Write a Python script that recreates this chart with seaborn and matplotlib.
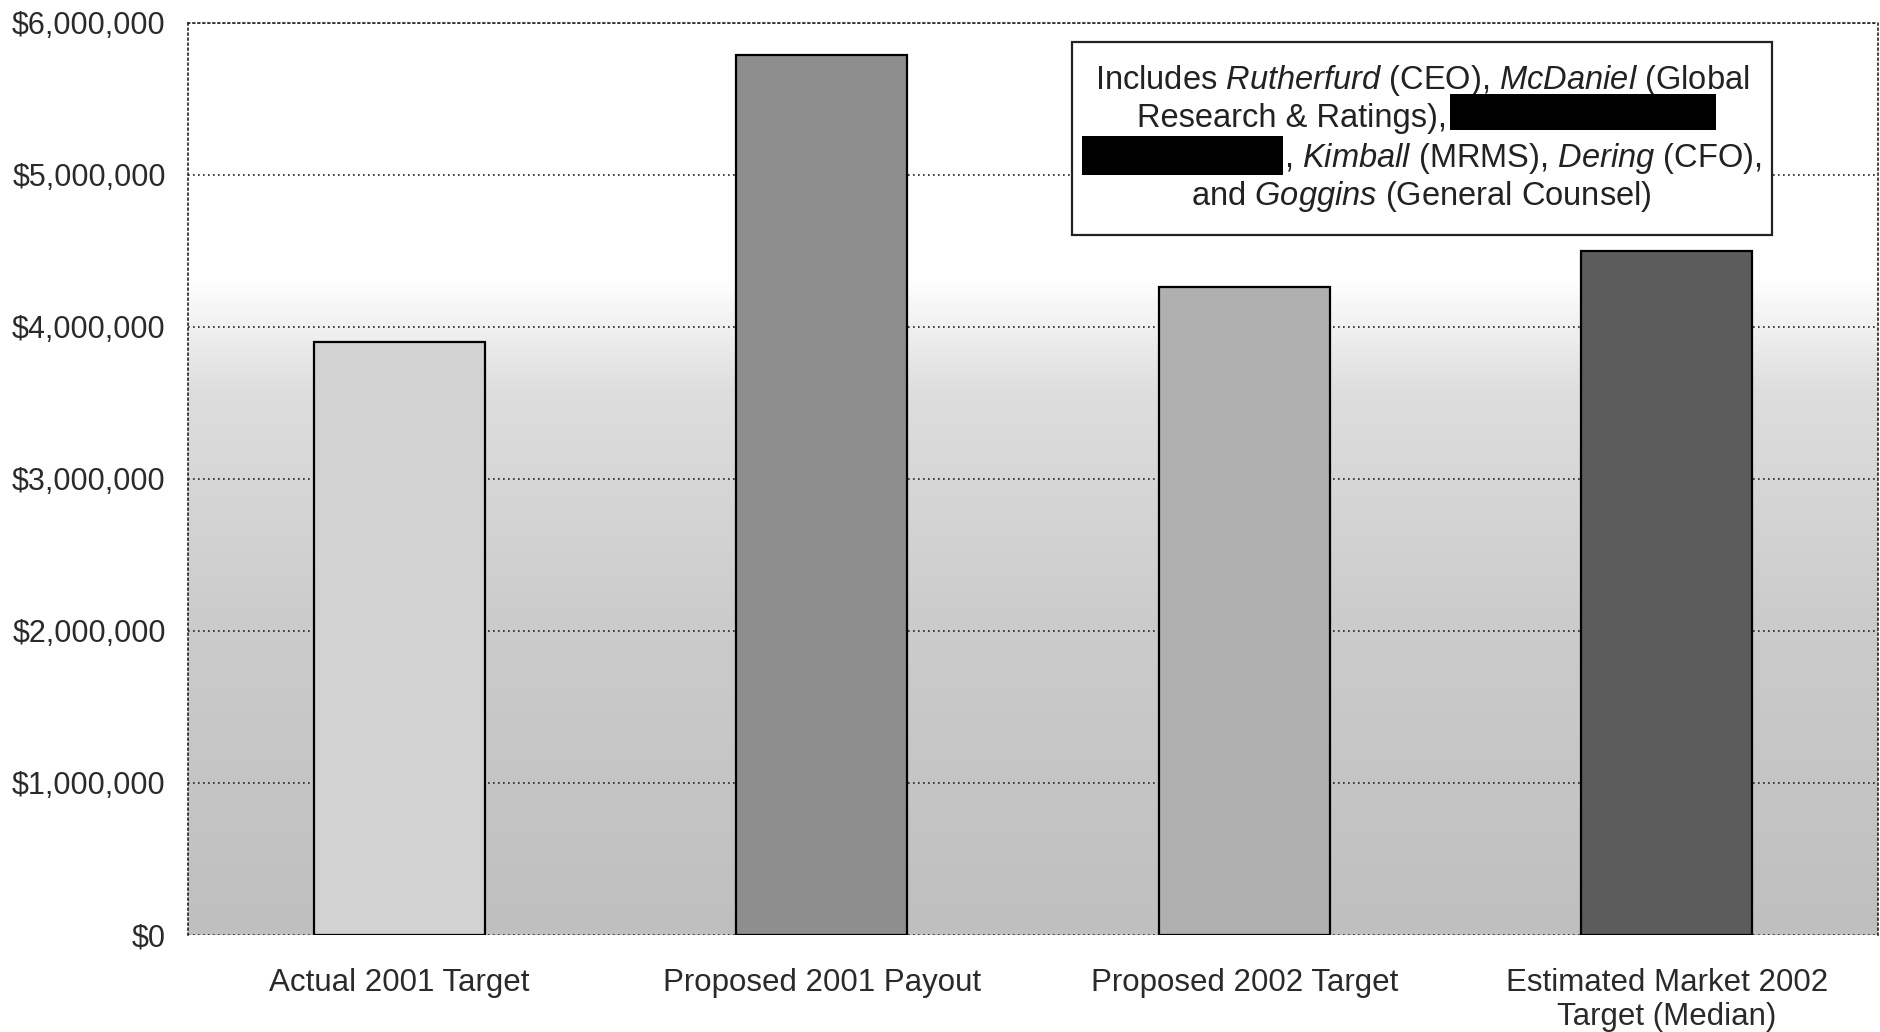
import matplotlib
matplotlib.use("Agg")
import matplotlib.pyplot as plt
import matplotlib.patches as mpatches
from matplotlib.colors import LinearSegmentedColormap
from matplotlib.ticker import FixedLocator, StrMethodFormatter
import numpy as np
import pandas as pd
import seaborn as sns


categories = [
    "Actual 2001 Target",
    "Proposed 2001 Payout",
    "Proposed 2002 Target",
    "Estimated Market 2002\nTarget (Median)",
]
values = [3_900_000, 5_790_000, 4_260_000, 4_500_000]
bar_colors = ["#d2d2d2", "#8e8e8e", "#b0b0b0", "#5c5c5c"]
y_ticks = [0, 1_000_000, 2_000_000, 3_000_000, 4_000_000, 5_000_000, 6_000_000]

W, H = 1881, 1032


def fx(x):
    return x / W


def fy(y):
    return 1 - y / H


sns.set_theme(style="white")
plt.rcParams["font.family"] = ["Liberation Sans", "DejaVu Sans"]
plt.rcParams["mathtext.fontset"] = "custom"
plt.rcParams["mathtext.rm"] = "Liberation Sans"
plt.rcParams["mathtext.it"] = "Liberation Sans:italic"

fig = plt.figure(figsize=(W / 100, H / 100), dpi=100)
ax = fig.add_axes([fx(188), fy(935), fx(1878) - fx(188), fy(23) - fy(935)])

df = pd.DataFrame({"category": categories, "value": values})

# background shading: white at the top fading to grey at the bottom
bg = LinearSegmentedColormap.from_list(
    "bg", [(0.0, "#bfbfbf"), (0.35, "#cccccc"), (0.6, "#dedede"), (0.68, "#f4f4f4"), (0.72, "#ffffff"), (1.0, "#ffffff")]
)
grad = np.linspace(0, 1, 256).reshape(-1, 1)
ax.imshow(grad, cmap=bg, aspect="auto", origin="lower",
          extent=(-0.5, 3.5, 0, 6_000_000), zorder=0)

sns.barplot(data=df, x="category", y="value", hue="category", palette=bar_colors,
            legend=False, width=0.405, edgecolor="black", linewidth=1.6,
            saturation=1, ax=ax, zorder=3)

ax.set_xlim(-0.5, 3.5)
ax.set_ylim(0, 6_000_000)
ax.yaxis.set_major_locator(FixedLocator(y_ticks))
ax.yaxis.set_major_formatter(StrMethodFormatter("${x:,.0f}"))
ax.set_xlabel("")
ax.set_ylabel("")
ax.grid(axis="y", linestyle=(0, (1, 2)), color="#222222", linewidth=1.2, zorder=1)
for line in ax.get_ygridlines():
    line.set_zorder(1)
for side, sp in ax.spines.items():
    sp.set_visible(True)
    sp.set_linestyle((0, (1, 2)))
    sp.set_color("#222222")
    sp.set_linewidth(1.2)
ax.spines["bottom"].set_visible(False)

ax.tick_params(axis="y", length=0, pad=16, labelsize=22, labelcolor="#2a2a2a")
ax.tick_params(axis="x", length=0, pad=23.5, labelsize=22.5, labelcolor="#2a2a2a")

# annotation box
box = mpatches.Rectangle((fx(1072), fy(235)), fx(1772) - fx(1072), fy(42) - fy(235),
                         transform=fig.transFigure, facecolor="white",
                         edgecolor="#222222", linewidth=1.6, zorder=5)
fig.patches.append(box)

txt_kw = dict(transform=fig.transFigure, fontsize=23.5, color="#222222",
              va="center", zorder=6)
fig.text(fx(1422), fy(80), "Includes $\\mathit{Rutherfurd}$ (CEO), $\\mathit{McDaniel}$ (Global",
         ha="center", **txt_kw)
fig.text(fx(1447), fy(119), "Research & Ratings),", ha="right", **txt_kw)
fig.text(fx(1284), fy(159), ", $\\mathit{Kimball}$ (MRMS), $\\mathit{Dering}$ (CFO),",
         ha="left", **txt_kw)
fig.text(fx(1421), fy(197), "and $\\mathit{Goggins}$ (General Counsel)", ha="center", **txt_kw)

# redacted areas
for x0, y0, x1, y1 in [(1450, 94, 1716, 130), (1082, 136, 1283, 175)]:
    fig.patches.append(mpatches.Rectangle((fx(x0), fy(y1)), fx(x1) - fx(x0), fy(y0) - fy(y1),
                                          transform=fig.transFigure, facecolor="black",
                                          edgecolor="none", zorder=7))

fig.savefig("out.png", dpi=100)
